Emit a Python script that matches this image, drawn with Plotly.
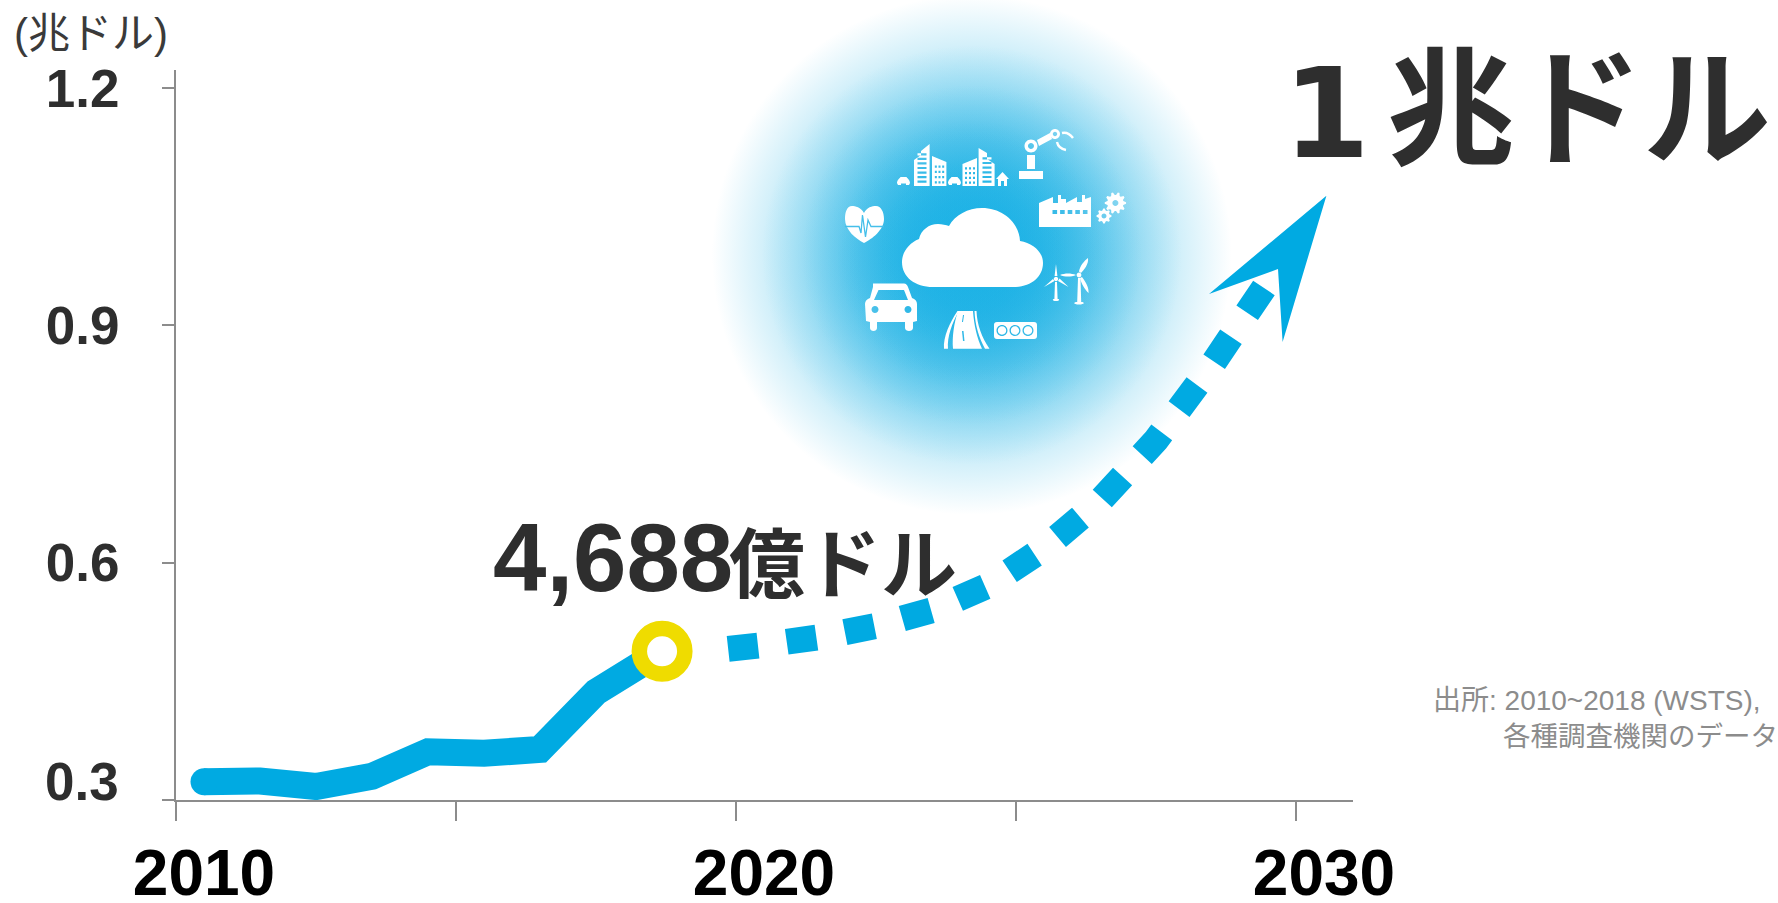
import math
import re
import plotly.graph_objects as go

# ---------- data ----------
actual_years = [2010, 2011, 2012, 2013, 2014, 2015, 2016, 2017, 2018.18]
actual_values = [0.323, 0.324, 0.317, 0.330, 0.361, 0.359, 0.364, 0.4365, 0.488]
forecast_years = [2019.36, 2020, 2021, 2022, 2023, 2024, 2025, 2026, 2027, 2028, 2029]
forecast_values = [0.491, 0.496, 0.506, 0.520, 0.540, 0.571, 0.618, 0.678, 0.755, 0.850, 0.955]
marker_year = [2018.18]
marker_value = [0.488]

y_ticks = [0.3, 0.6, 0.9, 1.2]
y_labels = ["", "0.6", "0.9", "1.2"]
x_tick_edges = [2009.5, 2014.5, 2019.5, 2024.5, 2029.5]
x_label_years = [2010, 2020, 2030]
x_labels = ["2010", "2020", "2030"]

BLUE = "#00aae2"
YELLOW = "#efdc00"
INK = "#2e2e2e"
AXIS = "#8c8c8c"
LATIN = "Liberation Sans, Noto Sans CJK JP"
CJK = "Noto Sans CJK JP"

# plot frame in page pixels
L, R, T, B = 176, 1353, 70, 800


def fx(x):
    return (x - L) / (R - L)


def fy(y):
    return (B - y) / (B - T)


def to_paper(path):
    def sub(m):
        return f"{fx(float(m.group(1))):.5f},{fy(float(m.group(2))):.5f}"
    return re.sub(r"(-?[\d.]+),(-?[\d.]+)", sub, path)


def circ(cx, cy, r):
    k = 0.5523 * r
    return (f"M{cx-r},{cy} C{cx-r},{cy-k} {cx-k},{cy-r} {cx},{cy-r} "
            f"C{cx+k},{cy-r} {cx+r},{cy-k} {cx+r},{cy} "
            f"C{cx+r},{cy+k} {cx+k},{cy+r} {cx},{cy+r} "
            f"C{cx-k},{cy+r} {cx-r},{cy+k} {cx-r},{cy} Z ")


def rect(x0, y0, x1, y1):
    return f"M{x0},{y0} L{x1},{y0} L{x1},{y1} L{x0},{y1} Z "


def gear(cx, cy, r, teeth=8):
    pts = []
    n = teeth * 4
    for i in range(n):
        a = 2 * math.pi * (i - 0.5) / n
        rad = r if i % 4 in (0, 1) else r * 0.76
        pts.append(f"{cx + rad*math.cos(a):.2f},{cy + rad*math.sin(a):.2f}")
    return "M" + " L".join(pts) + " Z "


def windows(x0, x1, y0, y1, nx, ny, w, h):
    out = ""
    for i in range(nx):
        for j in range(ny):
            x = x0 + (x1 - x0) * (i + 0.5) / nx - w / 2
            y = y0 + (y1 - y0) * (j + 0.5) / ny - h / 2
            out += rect(round(x, 2), round(y, 2), round(x + w, 2), round(y + h, 2))
    return out


def small_car(x0, x1):
    m = (x0 + x1) / 2
    return (f"M{x0},183 C{x0},180 {x0+3},178 {m-3},177 L{m+3},177 C{x1-3},178 {x1},180 {x1},183 "
            f"L{x1-1},185 L{x1-4},185 L{x1-4},183.5 L{x0+4},183.5 L{x0+4},185 L{x0+1},185 Z ")


icons = []


def icon(path, fill="white", line=None, width=0):
    shape = dict(type="path", xref="paper", yref="paper", path=to_paper(path),
                 layer="above", fillrule="evenodd", line=dict(width=width, color=line or "rgba(0,0,0,0)"))
    if fill:
        shape["fillcolor"] = fill
    icons.append(shape)


# cloud
icon("M933,287 C915,287 902,277 902,262 C902,252 909,243 919,239 C921,230 929,224 938,224 "
     "C942,224 946,225 949,226 C955,215 968,208 982,208 C1002,208 1019,222 1020,241 "
     "C1033,243 1043,252 1043,263 C1043,277 1031,287 1014,287 Z")
# city
icon("M914,186 L914,160 L921,155 L921,151 L929.6,144 L929.6,186 Z " +
     windows(916, 928, 152, 184, 1, 7, 9, 2.2))
icon("M932,186 L932,156 L946.4,162 L946.4,186 Z " + windows(934, 945, 164, 185, 3, 4, 2, 2.4))
icon("M962.5,186 L962.5,164 L977,158 L977,186 Z " + windows(964, 976, 166, 185, 3, 4, 2, 2.4))
icon("M978.6,186 L978.6,148 L987,153 L987,159 L994.6,164 L994.6,186 Z " +
     windows(981, 993, 156, 184, 1, 6, 9, 2.2))
icon(small_car(897, 910))
icon(small_car(948, 961))
icon("M996,179 L1002.5,172 L1009,179 L1007,179 L1007,186 L1004,186 L1004,181 L1001,181 L1001,186 L998,186 L998,179 Z")
# robot arm
icon(rect(1019, 171, 1043, 179))
icon(rect(1027, 155, 1035, 169))
icon(circ(1031, 146, 6.5) + circ(1031, 146, 3))
icon("M1037,140 L1050,133 L1052,139 L1039,146 Z")
icon(circ(1055, 134, 5) + circ(1055, 134, 2.2))
icon("M1062,133 C1066,132 1070,134 1073,138", fill=None, line="white", width=2.4)
icon("M1057,142 C1058,147 1061,149 1066,150", fill=None, line="white", width=2.4)
# factory and gears
icon("M1039,227 L1039,203 L1053,197 L1053,203 L1058,203 L1058,195 L1061,195 L1061,199 L1066,199 L1066,203 "
     "L1077,197 L1077,202 L1082,202 L1082,195 L1085,195 L1085,199 L1091,197 L1091,227 Z " +
     windows(1051, 1089, 208, 216, 5, 1, 4.6, 4))
icon(gear(1115.4, 203, 10.7, 10) + circ(1115.4, 203, 3))
icon(gear(1104, 216, 7.5, 8) + circ(1104, 216, 2.5))
# heart
icon("M864,213 C861,207 855,206 852,206 C847,206 845,212 845,219 C845,230 856,239 864,243 "
     "C872,239 884,230 884,219 C884,212 881,206 876,206 C872,206 867,207 864,213 Z")
icon("M845,226.5 L859,226.5 L861,233 L862.5,215 L865.5,237 L868,220 L871,226.5 L884,226.5",
     fill=None, line="#45bfea", width=1.3)
# car
icon("M873,283.5 L904,283.5 C906,283.5 907,285 908,287 L912,298 C915,299 917,301 917,304 L917,321 L913,322 "
     "L913,328 C913,332 905,332 905,328 L905,322 L877,322 L877,328 C877,332 870,332 870,328 L870,322 L866,321 "
     "L865,304 C865,301 867,299 870,298 L873,287 Z "
     "M878.5,290 L904,290 L908,300 L874,300 Z " + circ(875, 309.5, 3.5) + circ(908, 309.5, 3.5))
# road
icon("M958,311 L973,311 C974,325 977,338 982,348.7 L953,348.7 C952,337 954,323 958,311 Z "
     "M963,315 L962,322 L963,322 L964,315 Z M962,331 L963,341 L964.5,341 L963.5,331 Z")
icon("M957.5,311 C950,322 943,337 944,348.7 L948,348.7 C947,337 952,323 959,311 Z")
icon("M974.5,311 C975,325 979,338 985,348.7 L989.5,348.7 C982,338 977,325 976.5,311 Z")
# signal
icon("M997,322 L1034,322 C1036,322 1037,323 1037,325 L1037,336 C1037,338 1036,339 1034,339 L997,339 "
     "C995,339 994,338 994,336 L994,325 C994,323 995,322 997,322 Z " +
     circ(1002, 330.5, 5.5) + circ(1002, 330.5, 4.2) + circ(1015, 330.5, 5.5) + circ(1015, 330.5, 4.2) +
     circ(1028, 330.5, 5.5) + circ(1028, 330.5, 4.2))
# wind turbines
icon("M1055,282 L1057,282 L1057.6,299 C1060,299 1060,301 1056,301 C1052,301 1052,299 1054.4,299 Z")
icon("M1056,264 L1057.4,276 L1054.6,276 Z M1044,287 L1053,279 L1054.5,281 Z M1068.6,287 L1058,281 L1059.5,278.5 Z")
icon(circ(1056, 279, 2.2))
icon("M1078,278 L1080.5,278 L1081.2,302 C1085,302 1085,304.5 1079,304.5 C1073,304.5 1073,302 1077.2,302 Z")
icon("M1088,258 C1089,264 1084,270 1081,273 L1079,271.5 C1080,266 1084,261 1088,258 Z "
     "M1060,275 C1065,273 1071,273 1076,275 C1071,277 1065,277 1060,275 Z "
     "M1088.6,293 C1085,290 1081,283 1080,278 L1082,277 C1086,282 1089,288 1088.6,293 Z")
icon(circ(1079, 275, 2.4))
# arrow head
arrow = dict(type="path", xref="paper", yref="paper", layer="above", fillcolor=BLUE,
             line=dict(width=0),
             path=to_paper("M1326.4,195.7 L1282.6,342 L1278,269 L1209,294 Z"))

# ---------- glow ----------
GLOW_X, GLOW_Y = [2023.71], [0.989]
glow_sizes = [520, 420, 340, 270, 190]
glow_alphas = [1.0, 0.75, 0.65, 0.65, 0.6]

fig = go.Figure()
for size, alpha in zip(glow_sizes, glow_alphas):
    fig.add_trace(go.Scatter(
        x=GLOW_X, y=GLOW_Y, mode="markers", cliponaxis=False, hoverinfo="skip", showlegend=False,
        marker=dict(size=size, color="rgba(29,178,229,0)", line=dict(width=0),
                    gradient=dict(type="radial", color=f"rgba(29,178,229,{alpha})")),
        xaxis="x", yaxis="y"))

# ---------- series ----------
fig.add_trace(go.Scatter(x=forecast_years, y=forecast_values, mode="lines", cliponaxis=False,
                         line=dict(color=BLUE, width=26, dash="30px,29px", simplify=False), showlegend=False,
                         xaxis="x2", yaxis="y"))
fig.add_trace(go.Scatter(x=actual_years, y=actual_values, mode="lines", cliponaxis=False,
                         line=dict(color=BLUE, width=27, simplify=False), showlegend=False, xaxis="x2", yaxis="y"))
fig.add_trace(go.Scatter(x=actual_years[:1], y=actual_values[:1], mode="markers", cliponaxis=False,
                         marker=dict(size=27, color=BLUE, line=dict(width=0)), showlegend=False,
                         xaxis="x2", yaxis="y"))
fig.add_trace(go.Scatter(x=marker_year, y=marker_value, mode="markers", cliponaxis=False,
                         marker=dict(size=45.5, color="white", line=dict(color=YELLOW, width=15.5)),
                         showlegend=False, xaxis="x2", yaxis="y"))


def note(text, x, y, size, color=INK, family=LATIN, weight=700, xanchor="left", yanchor="middle"):
    return dict(text=text, x=fx(x), y=fy(y), xref="paper", yref="paper", showarrow=False,
                xanchor=xanchor, yanchor=yanchor, align="left",
                font=dict(size=size, color=color, family=family, weight=weight))


annotations = [
    note("(兆ドル)", 12, 34, 42, color="#3a3a3a", weight=400),
    dict(text="0.3", x=fx(121), y=0.3, xref="paper", yref="y", yshift=19, showarrow=False, xanchor="right",
         yanchor="middle", font=dict(size=53, color=INK, family=LATIN, weight=700)),
    note("4,688", 491, 557, 96),
    note("億ドル", 727, 559, 76, family=CJK),
    note("1", 1281, 113, 125, family="DejaVu Sans"),
    note("兆ドル", 1385, 99, 128, family=CJK),
    note("出所: 2010~2018 (WSTS),", 1431, 700, 28, color=AXIS, weight=400),
    note("各種調査機関のデータ", 1501, 736, 27.5, color=AXIS, weight=400),
]

x_range = [2009.5, 2009.5 + (R - L) / 56]
y_range = [0.3, 0.3 + (B - T) / 791]
fig.update_layout(
    width=1778, height=903, autosize=False, showlegend=False,
    paper_bgcolor="white", plot_bgcolor="white",
    margin=dict(l=L, r=1778 - R, t=T, b=903 - B, pad=0),
    xaxis=dict(range=x_range, tickmode="array", tickvals=x_tick_edges, ticktext=[""] * 5, automargin=False,
               ticks="outside", ticklen=19, tickwidth=2, tickcolor=AXIS, showgrid=False, zeroline=False,
               showline=True, linecolor=AXIS, linewidth=2),
    xaxis2=dict(range=x_range, overlaying="x", side="bottom", anchor="y", tickmode="array", automargin=False,
                tickvals=x_label_years, ticktext=x_labels, ticks="", ticklabelstandoff=30,
                tickfont=dict(size=64, color="black", family=LATIN, weight=700),
                showgrid=False, zeroline=False, showline=False),
    yaxis=dict(range=y_range, tickmode="array", tickvals=y_ticks, ticktext=y_labels, automargin=False,
               ticks="outside", ticklen=12, tickwidth=2, tickcolor=AXIS, ticklabelstandoff=32,
               tickfont=dict(size=53, color=INK, family=LATIN, weight=700),
               showgrid=False, zeroline=False, showline=True, linecolor=AXIS, linewidth=2),
    shapes=icons + [arrow],
    annotations=annotations,
)
fig.write_html("out.html", post_script="document.body.style.margin='0';",
               config={"displayModeBar": False})
